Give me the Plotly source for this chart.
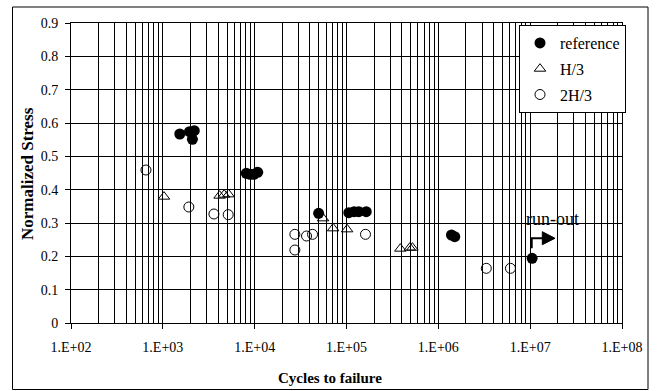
import plotly.graph_objects as go

# ---- data ----
ref_cycles = [1530, 1950, 2200, 2100, 8100, 8900, 9800, 10800, 49700, 106000, 121000, 136000, 164000, 1390000, 1510000, 10500000]
ref_stress = [0.567, 0.574, 0.577, 0.551, 0.449, 0.446, 0.446, 0.452, 0.329, 0.331, 0.334, 0.334, 0.334, 0.264, 0.259, 0.194]

h3_cycles = [1030, 4150, 4650, 5200, 55600, 71500, 101600, 386000, 489000, 522000]
h3_stress = [0.379, 0.382, 0.385, 0.386, 0.314, 0.284, 0.281, 0.223, 0.226, 0.226]

h23_cycles = [655, 1920, 3600, 5150, 27400, 27400, 36700, 42700, 161000, 3330000, 6100000]
h23_stress = [0.459, 0.348, 0.327, 0.325, 0.266, 0.219, 0.261, 0.266, 0.266, 0.164, 0.164]

x_tick_vals = [1e2, 1e3, 1e4, 1e5, 1e6, 1e7, 1e8]
x_tick_text = ["1.E+02", "1.E+03", "1.E+04", "1.E+05", "1.E+06", "1.E+07", "1.E+08"]
series_names = ["reference", "H/3", "2H/3"]

FONT = "Liberation Serif, Times New Roman, serif"

minor_vals = [m * 10 ** e for e in range(2, 8) for m in range(2, 10)]

fig = go.Figure()
fig.add_trace(go.Scatter(x=ref_cycles, y=ref_stress, mode="markers", name=series_names[0],
                         legendgroup="a",
                         marker=dict(symbol="circle", size=11, color="black")))
fig.add_trace(go.Scatter(x=h3_cycles, y=h3_stress, mode="markers", name=series_names[1],
                         legendgroup="b",
                         marker=dict(symbol="triangle-up-open", size=10, color="black",
                                     line=dict(width=1, color="black"))))
fig.add_trace(go.Scatter(x=h23_cycles, y=h23_stress, mode="markers", name=series_names[2],
                         legendgroup="c",
                         marker=dict(symbol="circle-open", size=10, color="black",
                                     line=dict(width=1, color="black"))))

W, H = 657, 391
L, R, T, B = 71, 35, 23, 68
pw, ph = W - L - R, H - T - B


def px(xp):
    return (xp - L) / pw


def py(yp):
    return (H - B - yp) / ph


fig.update_layout(
    width=W, height=H, autosize=False,
    margin=dict(l=L, r=R, t=T, b=B),
    paper_bgcolor="white", plot_bgcolor="white",
    font=dict(family=FONT, size=14, color="black"),
    showlegend=True,
    legend=dict(x=px(626), y=py(25), xanchor="right", yanchor="top",
                bgcolor="white", bordercolor="black", borderwidth=1,
                font=dict(family=FONT, size=16, color="black"),
                tracegroupgap=2, itemwidth=30),
    xaxis=dict(type="log", range=[2, 8], tickvals=x_tick_vals, ticktext=x_tick_text,
               ticks="outside", ticklen=5, tickcolor="black", ticklabelstandoff=6,
               showline=True, linecolor="black", linewidth=1, mirror=True,
               showgrid=True, gridcolor="black", gridwidth=1,
               minor=dict(tickvals=minor_vals, showgrid=True, gridcolor="black",
                          gridwidth=1, ticks=""),
               tickfont=dict(family=FONT, size=14, color="black"), zeroline=False),
    yaxis=dict(range=[0, 0.9], tick0=0, dtick=0.1,
               ticks="outside", ticklen=5, tickcolor="black", ticklabelstandoff=4,
               showline=True, linecolor="black", linewidth=1, mirror=True,
               showgrid=True, gridcolor="black", gridwidth=1, zeroline=False,
               tickfont=dict(family=FONT, size=14, color="black")),
)

annotations = [
    dict(text="<b>Cycles to failure</b>", x=px(330), y=py(378), xref="paper", yref="paper",
         xanchor="center", yanchor="middle", showarrow=False,
         font=dict(family=FONT, size=15, color="black")),
    dict(text="<b>Normalized Stress</b>", x=px(27), y=py(174), xref="paper", yref="paper",
         xanchor="center", yanchor="middle", showarrow=False, textangle=-90,
         font=dict(family=FONT, size=17, color="black")),
    dict(text="run-out", x=px(524), y=py(219), xref="paper", yref="paper",
         xanchor="left", yanchor="middle", showarrow=False,
         font=dict(family=FONT, size=18, color="black")),
]
fig.update_layout(annotations=annotations)

shapes = [
    # outer chart border
    dict(type="rect", xref="paper", yref="paper",
         x0=px(12.5), x1=px(648), y0=py(389.5), y1=py(7),
         line=dict(color="black", width=1), fillcolor="rgba(0,0,0,0)", layer="above"),
    # run-out elbow arrow stem
    dict(type="path", xref="paper", yref="paper",
         path=f"M {px(531.7)},{py(248.3)} L {px(531.7)},{py(238.3)} L {px(543)},{py(238.3)}",
         line=dict(color="black", width=2), layer="above"),
    # arrow head
    dict(type="path", xref="paper", yref="paper",
         path=f"M {px(542.3)},{py(231.7)} L {px(555)},{py(238.3)} L {px(542.3)},{py(244.7)} Z",
         line=dict(color="black", width=1), fillcolor="black", layer="above"),
]
fig.update_layout(shapes=shapes)

fig.write_html("out.html")
